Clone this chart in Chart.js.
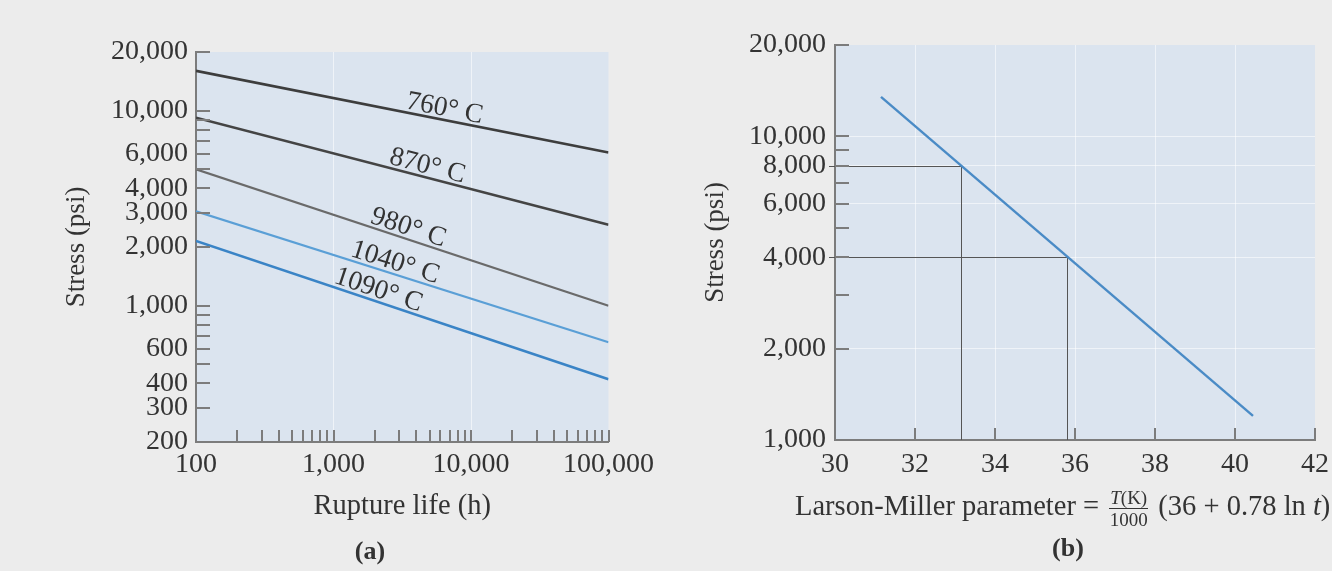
<!DOCTYPE html>
<html><head><meta charset="utf-8">
<script src="https://cdn.jsdelivr.net/npm/chart.js@4"></script>
<style>
html,body{margin:0;padding:0;background:#ececec;width:1332px;height:571px;overflow:hidden;font-family:"Liberation Serif","Times New Roman",serif;color:#333}
canvas{position:absolute;top:0}
#ca{left:0}
#cb{left:660px}
.cap{position:absolute;font-weight:bold;font-size:26px;line-height:1;transform:translate(-50%,-50%)}
#lm{position:absolute;left:795px;top:488px;font-size:28.5px;white-space:nowrap;line-height:1}
.frac{display:inline-block;vertical-align:middle;text-align:center;font-size:19px;line-height:1;margin:0 3px}
.frac .num{display:block;border-bottom:1.5px solid #333;padding:0 1px 1px}
.frac .den{display:block;padding-top:1px}
</style>
</head><body>
<canvas id="ca" width="660" height="571"></canvas>
<canvas id="cb" width="672" height="571"></canvas>
<div class="cap" style="left:370px;top:551px">(a)</div>
<div class="cap" style="left:1068px;top:548px">(b)</div>
<div id="lm">Larson-Miller parameter = <span class="frac"><span class="num"><i>T</i>(K)</span><span class="den">1000</span></span> (36 + 0.78 ln <i>t</i>)</div>
<script>
// ---------- data: chart (a) ----------
const ruptureLifeH = [100, 100000];
const tempLabels = ['760° C', '870° C', '980° C', '1040° C', '1090° C'];
const stress760 = [16000, 6100];
const stress870 = [9200, 2600];
const stress980 = [5000, 1000];
const stress1040 = [3050, 650];
const stress1090 = [2150, 420];
const labelAtHours = [6200, 4600, 3300, 2650, 2000];
const xTicksA = [100,200,300,400,500,600,700,800,900,1000,2000,3000,4000,5000,6000,7000,8000,9000,10000,20000,30000,40000,50000,60000,70000,80000,90000,100000];
const xLabelsA = [100, 1000, 10000, 100000];
const yTicksA = [200,300,400,500,600,700,800,900,1000,2000,3000,4000,5000,6000,7000,8000,9000,10000,20000];
const yLabelsA = [200,300,400,600,1000,2000,3000,4000,6000,10000,20000];

// ---------- data: chart (b) ----------
const lmParameter = [31.15, 40.45];
const lmStress = [13500, 1200];
const guideParameter = [33.15, 35.8];
const guideStress = [8000, 4000];
const xTicksB = [30, 32, 34, 36, 38, 40, 42];
const yTicksB = [1000,2000,3000,4000,5000,6000,7000,8000,9000,10000,20000];
const yLabelsB = [1000, 2000, 4000, 6000, 8000, 10000, 20000];

const FONT = '"Liberation Serif","Times New Roman",serif';
const TXT = '#333333';
const AXIS = '#7c7c7c';
const PLOTBG = '#dbe4ef';
const fmt = v => Number(v).toLocaleString('en-US');

const plotBg = {
  id: 'plotBg',
  beforeDraw(chart) {
    const {ctx, chartArea: a} = chart;
    ctx.save(); ctx.fillStyle = PLOTBG;
    ctx.fillRect(a.left, a.top, a.right - a.left, a.bottom - a.top);
    ctx.restore();
  }
};
const innerTicks = {
  id: 'innerTicks',
  afterDraw(chart) {
    const {ctx, chartArea: a, scales: {x, y}} = chart;
    ctx.save(); ctx.strokeStyle = AXIS; ctx.lineWidth = 2; ctx.beginPath();
    y.ticks.forEach(t => { if (t.value === y.min) return; const p = Math.round(y.getPixelForValue(t.value)); ctx.moveTo(a.left, p); ctx.lineTo(a.left + 14, p); });
    x.ticks.forEach(t => { if (t.value === x.min) return; const p = Math.round(x.getPixelForValue(t.value)); ctx.moveTo(p, a.bottom); ctx.lineTo(p, a.bottom - 12); });
    ctx.stroke(); ctx.restore();
  }
};
const lineLabels = {
  id: 'lineLabels',
  afterDatasetsDraw(chart) {
    const {ctx, scales: {x, y}} = chart;
    ctx.save(); ctx.fillStyle = TXT; ctx.font = '27.5px ' + FONT;
    chart.data.datasets.forEach((ds, i) => {
      const p0 = ds.data[0], p1 = ds.data[1];
      const x0 = x.getPixelForValue(p0.x), y0 = y.getPixelForValue(p0.y);
      const x1 = x.getPixelForValue(p1.x), y1 = y.getPixelForValue(p1.y);
      const ang = Math.atan2(y1 - y0, x1 - x0);
      const lx = x.getPixelForValue(labelAtHours[i]);
      const ly = y0 + (lx - x0) * (y1 - y0) / (x1 - x0);
      ctx.save(); ctx.translate(lx, ly); ctx.rotate(ang);
      ctx.textAlign = 'center'; ctx.textBaseline = 'alphabetic';
      ctx.fillText(tempLabels[i], 0, -4);
      ctx.restore();
    });
    ctx.restore();
  }
};
const guides = {
  id: 'guides',
  beforeDatasetsDraw(chart) {
    const {ctx, chartArea: a, scales: {x, y}} = chart;
    ctx.save(); ctx.strokeStyle = '#555'; ctx.lineWidth = 1; ctx.beginPath();
    guideParameter.forEach((g, i) => {
      const px = Math.round(x.getPixelForValue(g)) + 0.5;
      const py = Math.round(y.getPixelForValue(guideStress[i])) + 0.5;
      ctx.moveTo(a.left - 6, py); ctx.lineTo(px, py);
      ctx.moveTo(px, py); ctx.lineTo(px, a.bottom);
    });
    ctx.stroke(); ctx.restore();
  }
};

const gridCol = (labels, ends) => c => (labels.includes(c.tick.value) && !ends.includes(c.tick.value)) ? 'rgba(255,255,255,0.55)' : 'rgba(0,0,0,0)';

const ds = (arr, color, w) => ({
  data: ruptureLifeH.map((h, i) => ({x: h, y: arr[i]})),
  borderColor: color, borderWidth: w, pointRadius: 0, fill: false, tension: 0
});

new Chart(document.getElementById('ca'), {
  type: 'line',
  data: { datasets: [
    ds(stress760, '#3d3d3d', 2.6),
    ds(stress870, '#444444', 2.6),
    ds(stress980, '#6a6a6a', 2.2),
    ds(stress1040, '#5a9fd6', 2.2),
    ds(stress1090, '#3a84c6', 2.6)
  ]},
  options: {
    responsive: false, animation: false, devicePixelRatio: 1,
    layout: { padding: { left: 57, top: 52, right: 51, bottom: 44 } },
    plugins: { legend: {display: false}, tooltip: {enabled: false} },
    scales: {
      x: {
        type: 'logarithmic', min: 100, max: 100000,
        afterBuildTicks: s => { s.ticks = xTicksA.map(v => ({value: v})); },
        afterFit: s => { s.height = 85; },
        ticks: { autoSkip: false, maxRotation: 0, padding: 6, color: TXT, font: {family: FONT, size: 28},
                 callback: v => xLabelsA.includes(v) ? fmt(v) : '' },
        grid: { drawTicks: false, color: gridCol(xLabelsA, [100, 100000]) },
        border: { color: AXIS, width: 2 },
        title: { display: true, text: 'Rupture life (h)', color: TXT, font: {family: FONT, size: 28.5}, padding: {top: 0, bottom: 3} }
      },
      y: {
        type: 'logarithmic', min: 200, max: 20000,
        afterBuildTicks: s => { s.ticks = yTicksA.map(v => ({value: v})); },
        afterFit: s => { s.width = 139; },
        ticks: { autoSkip: false, padding: 8, color: TXT, font: {family: FONT, size: 28},
                 callback: v => yLabelsA.includes(v) ? fmt(v) : '' },
        grid: { drawTicks: false, color: 'rgba(0,0,0,0)' },
        border: { color: AXIS, width: 2 },
        title: { display: true, text: 'Stress (psi)', color: TXT, font: {family: FONT, size: 27}, padding: {top: 4, bottom: 0} }
      }
    }
  },
  plugins: [plotBg, innerTicks, lineLabels]
});

new Chart(document.getElementById('cb'), {
  type: 'line',
  data: { datasets: [{
    data: lmParameter.map((p, i) => ({x: p, y: lmStress[i]})),
    borderColor: '#4a8bc6', borderWidth: 2.4, pointRadius: 0, fill: false, tension: 0
  }]},
  options: {
    responsive: false, animation: false, devicePixelRatio: 1,
    layout: { padding: { left: 36, top: 45, right: 17, bottom: 81 } },
    plugins: { legend: {display: false}, tooltip: {enabled: false} },
    scales: {
      x: {
        type: 'linear', min: 30, max: 42,
        afterBuildTicks: s => { s.ticks = xTicksB.map(v => ({value: v})); },
        afterFit: s => { s.height = 50; s.paddingRight = 0; s.paddingLeft = 0; },
        ticks: { autoSkip: false, maxRotation: 0, padding: 8, color: TXT, font: {family: FONT, size: 28} },
        grid: { drawTicks: false, color: gridCol(xTicksB, [30, 42]) },
        border: { color: AXIS, width: 2 }
      },
      y: {
        type: 'logarithmic', min: 1000, max: 20000,
        afterBuildTicks: s => { s.ticks = yTicksB.map(v => ({value: v})); },
        afterFit: s => { s.width = 139; },
        ticks: { autoSkip: false, padding: 9, color: TXT, font: {family: FONT, size: 28},
                 callback: v => yLabelsB.includes(v) ? fmt(v) : '' },
        grid: { drawTicks: false, color: gridCol(yLabelsB, [1000, 20000]) },
        border: { color: AXIS, width: 2 },
        title: { display: true, text: 'Stress (psi)', color: TXT, font: {family: FONT, size: 27}, padding: {top: 4, bottom: 0} }
      }
    }
  },
  plugins: [plotBg, guides, innerTicks]
});
</script>
</body></html>
